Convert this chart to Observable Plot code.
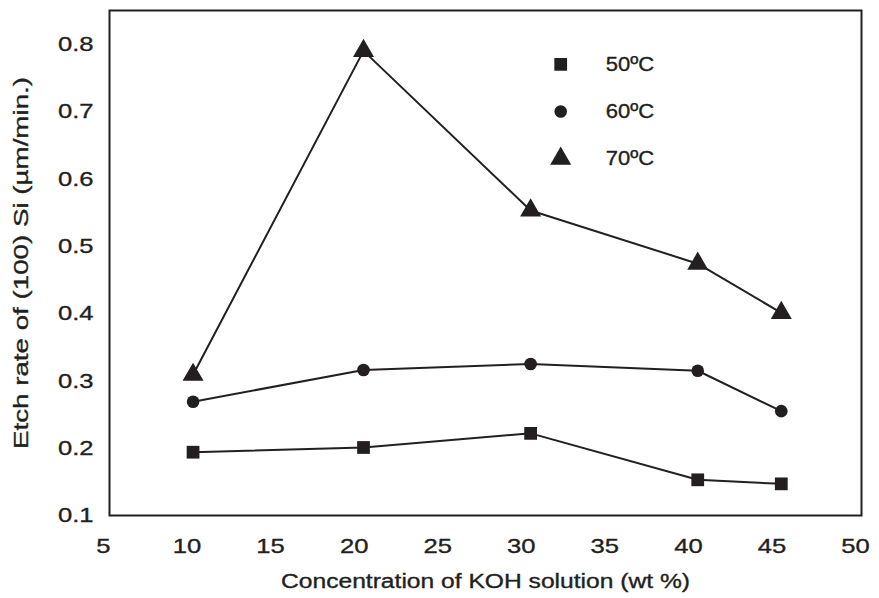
<!DOCTYPE html>
<html><head><meta charset="utf-8">
<script src="https://cdn.jsdelivr.net/npm/d3@7"></script>
<script src="https://cdn.jsdelivr.net/npm/@observablehq/plot@0.6"></script>
<style>body{margin:0;background:#fff} svg{display:block}</style>
</head><body><div id="chart"></div>
<script>
// ---- data ----
const concentration = [10.0, 20.2, 30.2, 40.2, 45.2];   // wt %
const rate50 = [0.194, 0.201, 0.222, 0.153, 0.147];
const rate60 = [0.269, 0.316, 0.325, 0.315, 0.255];
const rate70 = [0.309, 0.790, 0.553, 0.474, 0.401];
const seriesNames = ["50ºC", "60ºC", "70ºC"];
const seriesSymbols = ["square", "circle", "triangle"];
const xTicks = [5, 10, 15, 20, 25, 30, 35, 40, 45, 50];
const yTicks = [0.1, 0.2, 0.3, 0.4, 0.5, 0.6, 0.7, 0.8];
const xLabel = "Concentration of KOH solution (wt %)";
const yLabel = "Etch rate of (100) Si (µm/min.)";

// ---- styling ----
const ink = "#231f20";
const symbolR = {square: 7.2, circle: 6.3, triangle: 7.8};

const allRates = [rate50, rate60, rate70];
const rows = [];
allRates.forEach((vals, i) => vals.forEach((v, j) =>
  rows.push({series: seriesNames[i], symbol: seriesSymbols[i], x: concentration[j], y: v})));

// legend placed inside the frame (data space)
const legendX = 32, legendTop = 0.77, legendStep = 0.07;
const legendRows = seriesNames.map((name, i) => ({name, symbol: seriesSymbols[i], x: legendX, y: legendTop - i * legendStep}));

const dotMarks = seriesSymbols.map(s => Plot.dot(rows.filter(d => d.symbol === s),
  {x: "x", y: "y", symbol: () => s, r: symbolR[s], fill: ink, stroke: "none"}));
const legendDots = seriesSymbols.map(s => Plot.dot(legendRows.filter(d => d.symbol === s),
  {x: "x", y: "y", symbol: () => s, r: symbolR[s], fill: ink, stroke: "none"}));

const chart = Plot.plot({
  width: 879, height: 598,
  marginLeft: 109, marginRight: 18, marginTop: 10, marginBottom: 83,
  x: {domain: [5, 50]},
  y: {domain: [0.1, 0.85]},
  symbol: {type: "identity"},
  style: {fontFamily: "'Liberation Sans', Arial, sans-serif", fontSize: "20px", color: ink, background: "#fff"},
  marks: [
    Plot.axisX({ticks: xTicks, tickSize: 0, tickPadding: 23, tickFormat: d => String(d), dx: -6,
      label: null, fontSize: 21, fill: ink}),
    Plot.axisX({ticks: [], tickSize: 0, label: xLabel, labelAnchor: "center", labelArrow: "none",
      labelOffset: 72, fontSize: 20, fill: ink}),
    Plot.axisY({ticks: yTicks, tickSize: 0, tickPadding: 16, tickFormat: d => d.toFixed(1),
      label: null, fontSize: 21, fill: ink}),
    Plot.axisY({ticks: [], tickSize: 0, label: yLabel, labelAnchor: "center", labelArrow: "none",
      labelOffset: 96, fontSize: 20, fill: ink}),
    Plot.line(rows, {x: "x", y: "y", z: "series", stroke: ink, strokeWidth: 2}),
    ...dotMarks,
    ...legendDots,
    Plot.text(legendRows, {x: "x", y: "y", text: "name", textAnchor: "start", dx: 45, fontSize: 20, fill: ink}),
    Plot.frame({stroke: ink, strokeWidth: 2})
  ]
});
document.getElementById("chart").appendChild(chart);

// widen the lettering to match the reference's horizontally stretched type
function stretch(sel, factor, fixedLen) {
  chart.querySelectorAll(sel).forEach(t => {
    const len = fixedLen || t.getComputedTextLength() * factor;
    t.setAttribute("textLength", len.toFixed(1));
    t.setAttribute("lengthAdjust", "spacingAndGlyphs");
    t.setAttribute("stroke", ink);
    t.setAttribute("stroke-width", "0.35");
  });
}
stretch('g[aria-label="x-axis tick label"] text', 1.22);
stretch('g[aria-label="y-axis tick label"] text', 1.22);
stretch('g[aria-label="x-axis label"] text', 1, 409);
stretch('g[aria-label="y-axis label"] text', 1, 372);
stretch('g[aria-label="text"] text', 1.1);
</script>
</body></html>
